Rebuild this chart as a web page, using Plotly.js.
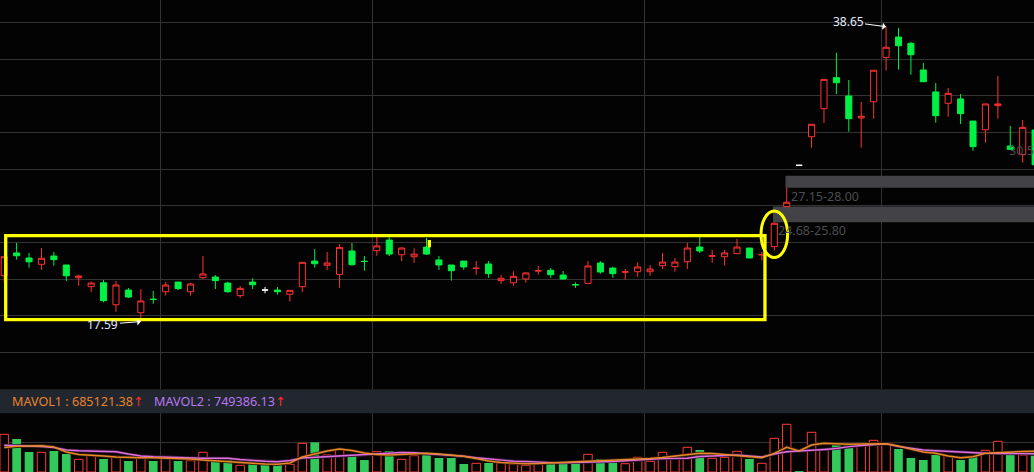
<!DOCTYPE html>
<html><head><meta charset="utf-8">
<script src="https://cdn.plot.ly/plotly-3.0.1.min.js"></script>
<style>html,body{margin:0;padding:0;background:#000;}#chart{width:1034px;height:472px;}</style>
</head><body><div id="chart"></div>
<script>
// ---- price data (one candle per trading day, index 0..83) ----
const open = [20.86,22.49,22.13,21.68,22.27,21.63,20.72,20.08,20.36,18.79,19.84,18.22,19.19,19.72,20.41,19.72,20.72,20.77,20.34,19.44,20.41,19.84,19.84,19.54,20.08,21.91,21.61,20.96,22.63,21.90,22.65,23.41,22.36,22.22,22.91,21.99,21.63,21.91,21.38,21.70,20.51,20.36,20.63,21.20,21.25,20.91,20.23,20.32,21.77,21.41,21.12,21.15,21.15,21.58,21.51,21.86,22.91,22.26,22.22,22.44,22.84,22.35,22.94,25.80,28.75,30.79,32.79,35.01,33.70,32.13,33.29,36.46,37.91,37.46,35.56,33.99,33.18,33.49,31.91,31.29,33.01,30.13,29.51,31.27];
const high = [22.22,23.20,22.49,22.84,22.56,21.63,20.94,20.44,20.56,20.49,19.99,19.91,19.77,20.41,20.41,20.36,22.27,20.91,20.44,20.13,20.68,20.06,20.06,19.82,21.82,22.77,22.56,23.13,23.20,22.27,23.63,23.65,22.91,22.82,23.56,22.27,21.63,21.91,21.91,21.91,20.91,21.18,21.11,21.56,21.41,21.20,20.39,21.91,21.91,21.51,21.34,21.82,21.63,22.49,22.13,23.20,23.65,22.70,22.70,23.49,22.84,22.56,24.68,27.15,28.75,31.68,34.89,36.79,34.84,33.27,35.54,38.65,38.56,37.58,36.06,34.63,34.27,33.84,31.91,33.13,35.13,31.56,31.99,31.27];
const low = [20.44,22.01,21.44,21.29,21.58,20.49,20.15,19.70,18.96,18.29,19.27,17.59,18.86,19.44,19.84,19.44,20.61,19.91,19.65,19.29,19.91,19.61,19.51,19.01,19.70,21.44,21.27,20.01,21.58,21.22,22.29,22.27,21.91,21.79,22.34,21.27,20.51,21.29,20.94,20.72,20.27,20.15,20.36,20.94,20.72,20.58,19.99,20.32,21.01,20.72,20.58,20.79,20.86,21.34,21.15,21.34,22.49,21.79,21.58,22.44,22.13,21.95,22.65,25.80,28.75,30.01,31.77,33.84,31.15,30.01,32.08,35.51,35.58,35.22,34.72,31.79,32.22,31.70,29.79,30.36,32.08,29.89,28.94,28.79];
const close = [22.22,22.29,21.86,22.11,22.01,20.86,20.84,20.34,19.08,20.20,19.34,19.06,19.17,20.20,19.94,20.27,20.99,20.51,19.72,19.96,20.22,19.84,19.72,19.82,21.82,21.72,21.77,22.89,21.65,21.88,22.99,22.41,22.84,22.41,22.41,21.63,21.22,21.49,21.40,21.01,20.68,20.82,21.06,21.22,20.94,20.63,20.21,21.56,21.13,21.01,21.14,21.49,21.34,21.84,21.84,22.84,22.63,22.28,22.49,22.91,22.13,22.37,24.61,26.11,28.75,31.68,34.89,34.65,32.08,32.25,35.54,37.18,37.29,36.65,34.72,32.29,33.89,32.44,30.08,33.13,33.13,29.89,31.46,28.79];
// days where open == close (drawn as neutral white dojis)
const flatDays = [21, 64];

// ---- volume data ----
const volume = [1244100,1089000,660000,650100,693000,594000,419100,570900,429000,518100,363000,537900,363000,471900,363000,372900,650100,396000,396000,221100,353100,264000,231000,254100,947100,980100,561000,749100,561000,396000,669900,683100,419100,537900,650100,462000,462000,264000,287100,297000,287100,264000,221100,264000,320100,363000,330000,584100,429000,306900,273900,485100,353100,650100,452100,815100,726000,452100,485100,683100,429000,287100,1112100,1574100,30000,1310100,716100,891000,891000,914100,1046100,914100,759000,462000,396000,561000,537900,396000,495000,716100,1013100,650100,561000,537900];
const mavol1 = [808500,848100,858000,867900,825000,660000,577500,561000,528000,495000,471900,471900,471900,462000,445500,429000,396000,363000,330000,306900,287100,264000,254100,297000,495000,594000,693000,759000,709500,627000,577500,561000,577500,594000,617100,594000,561000,518100,445500,363000,313500,287100,273900,280500,297000,320100,346500,363000,363000,396000,405900,419100,445500,478500,528000,561000,617100,610500,577500,561000,511500,471900,617100,815100,693000,891000,947100,924000,914100,924000,933900,933900,858000,759000,660000,617100,528000,471900,504900,617100,643500,650100,676500,683100];
const mavol2 = [881100,874500,858000,841500,808500,726000,702900,686400,676500,669900,594000,528000,504900,488400,468600,455400,452100,452100,452100,412500,379500,353100,339900,379500,462000,485100,511500,537900,551100,561000,594000,627000,643500,633600,610500,584100,551100,518100,468600,429000,386100,356400,346500,323400,310200,306900,313500,323400,330000,346500,369600,396000,429000,442200,448800,455400,511500,534600,551100,561000,528000,495000,594000,669900,693000,709500,742500,775500,838200,874500,914100,933900,841500,775500,726000,702900,676500,660000,636900,617100,610500,607200,603900,603900];
const mavolLabels = ['MAVOL1 : 685121.38', 'MAVOL2 : 749386.13'];

// ---- marked price gaps & extremes ----
const gapStart = [62, 63];
const gapLow = [24.68, 27.15];
const gapHigh = [25.80, 28.00];
const extraLevelDay = 80.76, extraLevelPrice = 29.84, extraLevelText = '30.50';
const highDay = 71, highPrice = 38.65;
const lowDay = 11, lowPrice = 17.59;

const RED = '#ff3232', GREEN = '#00f046', VRED = '#ff3b30', VGREEN = '#33c85a';
const days = open.map((_, i) => i);
const isFlat = i => flatDays.indexOf(i) >= 0;
const pick = (arr, f) => days.filter(f).map(i => arr[i]);
const normal = i => !isFlat(i);

const traces = [
  {type:'candlestick', x:pick(days, normal), open:pick(open, normal), high:pick(high, normal), low:pick(low, normal), close:pick(close, normal),
   increasing:{line:{color:RED, width:1}, fillcolor:'#000000'},
   decreasing:{line:{color:GREEN, width:1}, fillcolor:GREEN},
   whiskerwidth:0, hoverinfo:'skip', xaxis:'x', yaxis:'y'},
  {type:'candlestick', x:pick(days, isFlat), open:pick(open, isFlat), high:pick(high, isFlat), low:pick(low, isFlat), close:pick(close, isFlat),
   increasing:{line:{color:'#ffffff', width:1}, fillcolor:'#ffffff'},
   decreasing:{line:{color:'#ffffff', width:1}, fillcolor:'#ffffff'},
   whiskerwidth:0, hoverinfo:'skip', xaxis:'x', yaxis:'y'},
];
const up = i => close[i] > open[i];
const down = i => !(close[i] > open[i]);
traces.push({type:'bar', x:pick(days, up), y:pick(volume, up), width:0.68,
  marker:{color:'#000000', line:{color:VRED, width:1}}, xaxis:'x', yaxis:'y2', hoverinfo:'skip'});
traces.push({type:'bar', x:pick(days, down), y:pick(volume, down), width:0.7,
  marker:{color:VGREEN, line:{width:0}}, xaxis:'x', yaxis:'y2', hoverinfo:'skip'});
traces.push({type:'scatter', mode:'lines', x:days, y:mavol2, line:{color:'#3a1a3a', width:3.2}, xaxis:'x', yaxis:'y2', hoverinfo:'skip'});
traces.push({type:'scatter', mode:'lines', x:days, y:mavol1, line:{color:'#3a230c', width:3.2}, xaxis:'x', yaxis:'y2', hoverinfo:'skip'});
traces.push({type:'scatter', mode:'lines', x:days, y:mavol2, line:{color:'#e070e0', width:1.4}, xaxis:'x', yaxis:'y2', hoverinfo:'skip'});
traces.push({type:'scatter', mode:'lines', x:days, y:mavol1, line:{color:'#e8882a', width:1.4}, xaxis:'x', yaxis:'y2', hoverinfo:'skip'});

const shapes = [
  {type:'rect', xref:'paper', yref:'paper', x0:0, x1:1, y0:0.1244, y1:0.1752, fillcolor:'#22262e', line:{width:0}, layer:'below'},
];
gapStart.forEach((s, k) => shapes.push({type:'rect', xref:'x', yref:'y', x0:s - 0.1, x1:120, y0:gapLow[k], y1:gapHigh[k],
  fillcolor:'#434347', line:{width:0}, layer:'between'}));
shapes.push({type:'rect', xref:'paper', yref:'paper', x0:0.00551, x1:0.7398, y0:0.3227, y1:0.5006, line:{color:'#ffff00', width:3.3}, layer:'above'});
shapes.push({type:'circle', xref:'paper', yref:'paper', x0:0.736, x1:0.7617, y0:0.4542, y1:0.553, line:{color:'#ffff00', width:3}, layer:'above'});
shapes.push({type:'rect', xref:'paper', yref:'paper', x0:0.4136, x1:0.4168, y0:0.476, y1:0.4915, fillcolor:'#ffff00', line:{width:0}, layer:'above'});

const FONT = 'Noto Sans, DejaVu Sans, sans-serif';
const annotations = [];
gapStart.forEach((s, k) => annotations.push({xref:'x', yref:'y', x:s + 0.15, y:gapLow[k] - 0.62, xanchor:'left', yanchor:'middle',
  text:gapLow[k].toFixed(2) + '-' + gapHigh[k].toFixed(2), showarrow:false, font:{family:FONT, size:12.5, color:'#4c4c50'}}));
annotations.push({xref:'x', yref:'y', x:extraLevelDay, y:extraLevelPrice, xanchor:'left', yanchor:'middle', text:extraLevelText,
  showarrow:false, font:{family:FONT, size:12.5, color:'#4c4c50'}});
annotations.push({xref:'x', yref:'y', x:highDay, y:highPrice, text:highPrice.toFixed(2), showarrow:true, ax:-38, ay:-5,
  arrowcolor:'#ffffff', arrowwidth:1, arrowhead:1, arrowsize:1.2, standoff:0, font:{family:FONT, size:12, color:'#e6ecff'}});
annotations.push({xref:'x', yref:'y', x:lowDay, y:lowPrice, text:lowPrice.toFixed(2), showarrow:true, ax:-38, ay:3,
  arrowcolor:'#ffffff', arrowwidth:1, arrowhead:1, arrowsize:1.2, standoff:0, font:{family:FONT, size:12, color:'#e6ecff'}});
annotations.push({xref:'paper', yref:'paper', x:10/1034, y:0.1498, xanchor:'left', yanchor:'middle', showarrow:false,
  text:'<span style="color:#e8842c">' + mavolLabels[0] + '</span><span style="color:#ff2a2a">↑</span>', font:{family:FONT, size:12.6}});
annotations.push({xref:'paper', yref:'paper', x:152/1034, y:0.1498, xanchor:'left', yanchor:'middle', showarrow:false,
  text:'<span style="color:#b878f0">' + mavolLabels[1] + '</span><span style="color:#ff2a2a">↑</span>', font:{family:FONT, size:12.6}});

const layout = {
  width:1034, height:472, margin:{l:0, r:0, t:0, b:0, pad:0},
  paper_bgcolor:'#030303', plot_bgcolor:'rgba(0,0,0,0)', showlegend:false, barmode:'overlay',
  xaxis:{range:[-0.338, 82.91], showgrid:true, tickmode:'array', tickvals:[12.62, 29.64, 51.59, 70.65], gridcolor:'#333333', gridwidth:1,
    showticklabels:false, ticks:'', zeroline:false, showline:false, rangeslider:{visible:false}, fixedrange:true},
  yaxis:{domain:[0.1758, 1], range:[12.771, 40.557], tickmode:'linear', tick0:15.39, dtick:2.619, showgrid:true, gridcolor:'#333333',
    showticklabels:false, ticks:'', zeroline:false, showline:false, fixedrange:true},
  yaxis2:{domain:[0, 0.125], range:[0, 1947000], tickmode:'array', tickvals:[973500], showgrid:true, gridcolor:'#333333',
    showticklabels:false, ticks:'', zeroline:false, showline:false, fixedrange:true},
  shapes:shapes, annotations:annotations
};
Plotly.newPlot('chart', traces, layout, {staticPlot:true, displayModeBar:false});
</script></body></html>
